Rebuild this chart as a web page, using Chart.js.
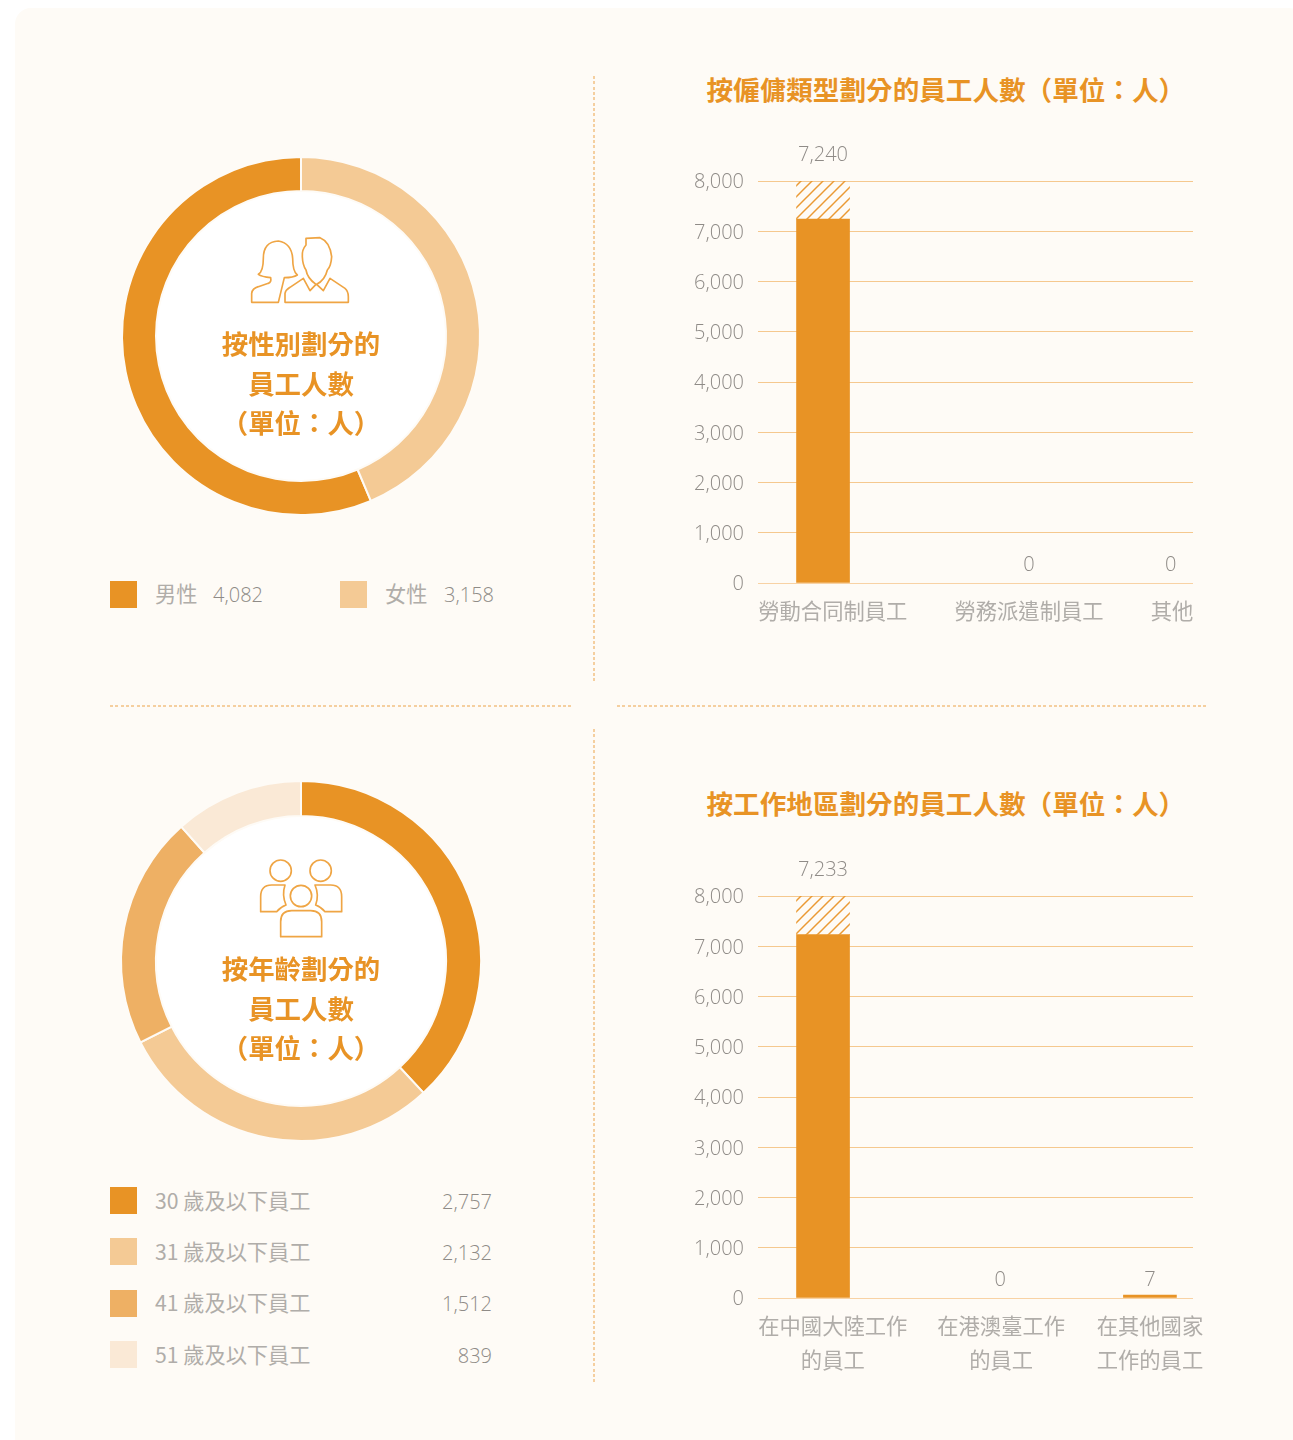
<!DOCTYPE html>
<html lang="zh-Hant">
<head>
<meta charset="utf-8">
<title>員工人數</title>
<script src="https://cdn.jsdelivr.net/npm/chart.js@4/dist/chart.umd.js"></script>
<style>
    html, body { margin: 0; padding: 0; background: #fff; }
    #page { position: relative; width: 1293px; height: 1440px; overflow: hidden; font-family: "Open Sans", "Noto Sans CJK TC", sans-serif; }
    #panel { position: absolute; left: 15px; top: 8px; width: 1290px; height: 1445px; background: #fefbf6; border-radius: 16px; }
    canvas { position: absolute; }
    .hole { position: absolute; width: 290px; height: 290px; border-radius: 50%; background: #fff; }
    .dots-v, .dots-h { position: absolute; }
    .dots-v { width: 2px; background: repeating-linear-gradient(to bottom, #f5cf9f 0 3px, transparent 3px 5.33px); }
    .dots-h { height: 2px; background: repeating-linear-gradient(to right, #f5cf9f 0 3px, transparent 3px 5.33px); }
    .title { position: absolute; left: 600px; width: 680px; text-align: left; font: bold 26.6px "Noto Sans CJK TC", sans-serif; color: #e89325; line-height: 36px; white-space: nowrap; }
    .centre { position: absolute; width: 300px; text-align: center; font: bold 26.4px/39.7px "Noto Sans CJK TC", sans-serif; color: #e89325; }
    .icon { position: absolute; fill: none; stroke: #efa544; stroke-width: 5; stroke-linejoin: round; }
    .swatch { position: absolute; width: 27px; height: 27px; }
    .legend-text { position: absolute; font: 21.2px/28px "Noto Sans CJK TC", sans-serif; color: #b0ada9; white-space: nowrap; }
    .legend-num { position: absolute; font: 300 20px/28px "Open Sans", sans-serif; color: #8f8b87; white-space: nowrap; }
</style>
</head>
<body>
<div id="page">
    <div id="panel"></div>

    <div class="dots-v" style="left:593px;top:76px;height:606px"></div>
    <div class="dots-v" style="left:593px;top:729px;height:653px"></div>
    <div class="dots-h" style="left:110px;top:705px;width:461px"></div>
    <div class="dots-h" style="left:617px;top:705px;width:589px"></div>

    <div class="hole" style="left:156px;top:191px"></div>
    <div class="hole" style="left:156px;top:816px"></div>
    <canvas id="genderChart" width="400" height="400" style="left:101px;top:136px"></canvas>
    <canvas id="ageChart" width="400" height="400" style="left:101px;top:761px"></canvas>

    <svg class="icon" style="left:220px;top:225px" width="170" height="90" viewBox="0 0 510 270">
        <path d="M95 232 L95 205 Q97 190 115 185 L145 175 Q155 172 152 158 Q125 155 115 148 Q130 140 130 100 Q130 50 175 48 Q215 55 218 100 Q218 140 232 150 Q220 158 193 158 L175 232 Z"/>
        <path d="M195 232 L195 205 Q197 195 210 187 L250 160 L270 197 L288 178 Q262 160 258 135 Q248 120 247 95 Q245 75 258 60 L258 40 L300 38 Q330 50 335 95 Q333 125 322 135 Q315 165 290 178 L310 197 L330 160 L375 190 Q385 198 385 215 L385 232 Z"/>
    </svg>
    <svg class="icon" style="left:240px;top:850px" width="120" height="95" viewBox="0 0 360 285">
        <circle cx="122" cy="62" r="32"/>
        <circle cx="242" cy="62" r="32"/>
        <circle cx="183" cy="138" r="32"/>
        <path d="M122 260 L122 215 Q122 182 155 182 L212 182 Q245 182 245 215 L245 260 Z"/>
        <path d="M135 105 L95 105 Q62 105 62 140 L62 185 L110 185 Q120 172 138 165 Q125 135 135 105 Z"/>
        <path d="M225 105 L272 105 Q305 105 305 140 L305 185 L255 185 Q245 172 227 165 Q238 135 225 105 Z"/>
    </svg>

    <div class="centre" style="left:151px;top:323px">按性別劃分的<br>員工人數<br>（單位：人）</div>
    <div class="centre" style="left:151px;top:948px">按年齡劃分的<br>員工人數<br>（單位：人）</div>

    <div class="title" style="left:706.5px;top:71px">按僱傭類型劃分的員工人數（單位：人）</div>
    <div class="title" style="left:706.5px;top:785px">按工作地區劃分的員工人數（單位：人）</div>

    <canvas id="typeChart" width="620" height="552" style="left:620px;top:131px"></canvas>
    <canvas id="regionChart" width="620" height="552" style="left:620px;top:846px"></canvas>

    <div id="legends"></div>
</div>

<script>
// --- Data ---
const genderLabels = ['男性', '女性'];
const genderValues = [4082, 3158];

const ageLabels = ['30 歲及以下員工', '31 歲及以下員工', '41 歲及以下員工', '51 歲及以下員工'];
const ageValues = [2757, 2132, 1512, 839];

const typeLabels = ['勞動合同制員工', '勞務派遣制員工', '其他'];
const typeValues = [7240, 0, 0];

const regionLabels = [['在中國大陸工作', '的員工'], ['在港澳臺工作', '的員工'], ['在其他國家', '工作的員工']];
const regionValues = [7233, 0, 7];

const AXIS_MAX = 8000;
const ORANGE = '#e89325';
const genderColors = [ORANGE, '#f4ca95'];
const ageColors = [ORANGE, '#f4ca95', '#eeb064', '#fae9d6'];
const NUM_FONT = '"Open Sans", sans-serif';
const CJK_FONT = '"Noto Sans CJK TC", sans-serif';

// --- Category scale with uneven slots, the source layout is not evenly spaced ---
class SlotScale extends Chart.CategoryScale {
    getPixelForValue(value) {
        const i = typeof value === 'number' ? value : this.parse(value);
        return this.left + this.width * this.options.barSlots[i];
    }
    getPixelForTick(index) {
        return this.left + this.width * this.options.tickSlots[index];
    }
}
SlotScale.id = 'slotCategory';
SlotScale.defaults = Chart.CategoryScale.defaults;

// Open Sans sits a little high against the gridlines, push the tick labels down
class NudgedLinearScale extends Chart.LinearScale {
    _computeLabelItems(chartArea) {
        const items = super._computeLabelItems(chartArea);
        items.forEach(item => { item.options.translation[1] += 1.7; });
        return items;
    }
}
NudgedLinearScale.id = 'nudgedLinear';
NudgedLinearScale.defaults = Chart.LinearScale.defaults;
Chart.register(SlotScale, NudgedLinearScale);

// --- Value labels above the bars ---
const valueLabels = {
    id: 'valueLabels',
    afterDatasetsDraw(chart, args, opts) {
        const { ctx, scales: { x, y } } = chart;
        ctx.save();
        ctx.font = '300 20px ' + NUM_FONT;
        ctx.fillStyle = '#8f8b87';
        ctx.textAlign = 'center';
        ctx.textBaseline = 'alphabetic';
        opts.values.forEach((v, i) => {
            const top = i === 0 ? AXIS_MAX : v;
            const gap = i === 0 ? 20 : 12;
            ctx.fillText(v.toLocaleString('en-US'), x.getPixelForValue(i), y.getPixelForValue(top) - gap);
        });
        ctx.restore();
    }
};

function hatchPattern() {
    const tile = document.createElement('canvas');
    tile.width = tile.height = 11;
    const c = tile.getContext('2d');
    c.strokeStyle = '#ea9a34';
    c.lineWidth = 1.5;
    [[-1, 12, 12, -1], [-4, 4, 4, -4], [7, 15, 15, 7]].forEach(l => {
        c.beginPath();
        c.moveTo(l[0], l[1]);
        c.lineTo(l[2], l[3]);
        c.stroke();
    });
    return c.createPattern(tile, 'repeat');
}

// --- Chart helpers ---
function createDonut(id, labels, values, colors, rotation, radius) {
    return new Chart(document.getElementById(id), {
        type: 'doughnut',
        data: {
            labels: labels,
            datasets: [{ data: values, backgroundColor: colors, borderColor: '#fefbf6', borderWidth: 2 }]
        },
        options: {
            responsive: false,
            animation: false,
            rotation: rotation,
            radius: radius,
            cutout: (145 / radius * 100) + '%',
            plugins: { legend: { display: false }, tooltip: { enabled: false } }
        }
    });
}

function createBarChart(id, labels, values, barSlots, tickSlots) {
    const hatch = values.map(v => (v === Math.max(...values) ? AXIS_MAX - v : null));
    return new Chart(document.getElementById(id), {
        type: 'bar',
        data: {
            labels: labels,
            datasets: [
                { data: values.map(v => v || null), backgroundColor: ORANGE, barThickness: 53, minBarLength: 3 },
                { data: hatch, backgroundColor: hatchPattern(), barThickness: 53 }
            ]
        },
        options: {
            responsive: false,
            animation: false,
            layout: { padding: { top: 50, right: 47, left: 0, bottom: 0 } },
            scales: {
                x: {
                    type: 'slotCategory',
                    stacked: true,
                    barSlots: barSlots,
                    tickSlots: tickSlots,
                    grid: { display: false },
                    border: { display: false },
                    ticks: {
                        autoSkip: false,
                        maxRotation: 0,
                        padding: 2,
                        color: '#b0ada9',
                        font: { family: CJK_FONT, size: 21.3, lineHeight: 1.64 }
                    },
                    afterFit: s => { s.height = 100; s.paddingLeft = 0; s.paddingRight = 0; }
                },
                y: {
                    type: 'nudgedLinear',
                    stacked: true,
                    min: 0,
                    max: AXIS_MAX,
                    grid: {
                        color: c => (c.tick && c.tick.value === 0 ? '#f8d2a4' : '#f5c88e'),
                        lineWidth: 1,
                        drawTicks: false
                    },
                    border: { display: false },
                    ticks: {
                        stepSize: 1000,
                        padding: 14,
                        color: '#8f8b87',
                        font: { family: NUM_FONT, size: 20, weight: 300 },
                        callback: v => v.toLocaleString('en-US')
                    },
                    afterFit: s => { s.width = 138; }
                }
            },
            plugins: {
                legend: { display: false },
                tooltip: { enabled: false },
                valueLabels: { values: values }
            }
        },
        plugins: [valueLabels]
    });
}

// --- Legends ---
function addLegendRow(color, swatchX, rowY, textY, label, labelX, value, valueX, alignRight) {
    const root = document.getElementById('legends');
    const box = document.createElement('div');
    box.className = 'swatch';
    box.style.cssText = `left:${swatchX}px;top:${rowY - 13.5}px;background:${color}`;
    root.appendChild(box);

    const text = document.createElement('div');
    text.className = 'legend-text';
    text.textContent = label;
    text.style.cssText = `left:${labelX}px;top:${textY - 16}px`;
    root.appendChild(text);

    const num = document.createElement('div');
    num.className = 'legend-num';
    num.textContent = value.toLocaleString('en-US');
    num.style.cssText = `top:${textY - 14}px;` + (alignRight ? `right:${1293 - valueX}px` : `left:${valueX}px`);
    root.appendChild(num);
}

const genderTotal = genderValues.reduce((a, b) => a + b, 0);
createDonut('genderChart', genderLabels, genderValues, genderColors, 360 * genderValues[1] / genderTotal, 179);
createDonut('ageChart', ageLabels, ageValues, ageColors, 0, 180);

createBarChart('typeChart', typeLabels, typeValues, [0.1495, 0.623, 0.949], [0.172, 0.623, 0.952]);
createBarChart('regionChart', regionLabels, regionValues, [0.1495, 0.557, 0.901], [0.172, 0.559, 0.901]);

addLegendRow(genderColors[0], 110, 594.5, 594.5, genderLabels[0], 155, genderValues[0], 213, false);
addLegendRow(genderColors[1], 340, 594.5, 594.5, genderLabels[1], 385, genderValues[1], 444, false);
[1200.5, 1251.5, 1303, 1354.5].forEach((rowY, i) => {
    addLegendRow(ageColors[i], 110, rowY, rowY + 1, ageLabels[i], 155, ageValues[i], 492, true);
});
</script>
</body>
</html>
